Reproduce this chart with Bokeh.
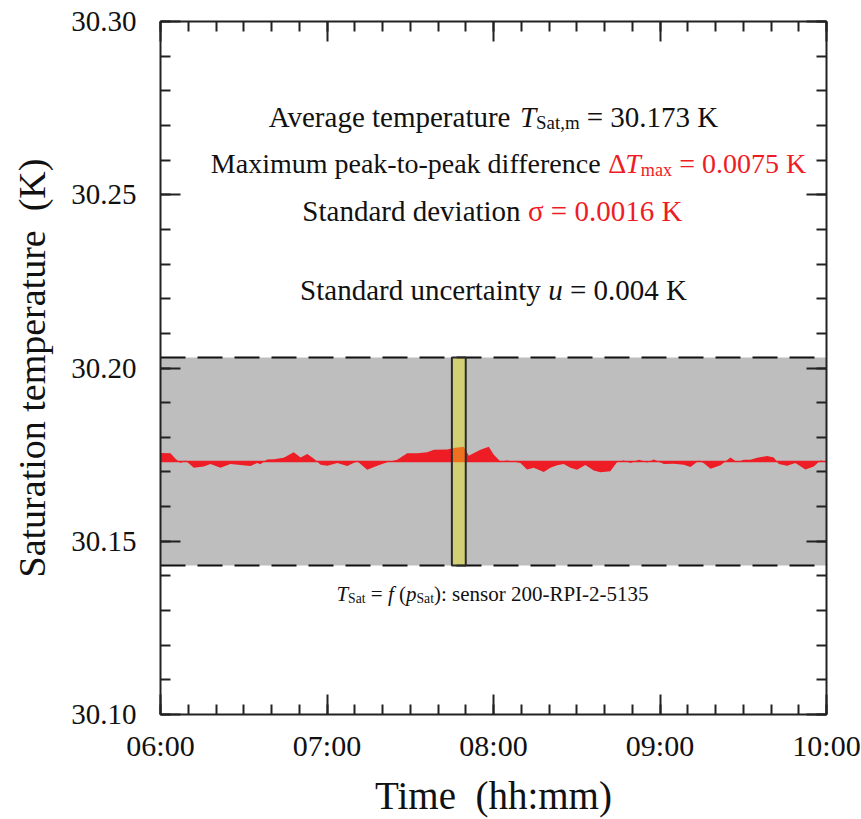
from bokeh.plotting import figure
from bokeh.models import Range1d, FixedTicker, LinearAxis, ColumnDataSource
from bokeh.core.properties import value
from bokeh.embed import file_html
from bokeh.resources import INLINE

# ---------------- data ----------------
# time in minutes after 06:00, deviation from the mean in mK
minutes = [0, 3.6, 5.4, 7.2, 9.0, 12.0, 15.6, 18.0, 21.6, 25.2, 28.8, 32.4, 34.8, 36.0,
           38.4, 40.8, 44.4, 48.0, 50.5, 52.9, 55.3, 57.7, 60.1, 63.7, 67.3, 70.9, 74.5,
           78.1, 81.7, 85.3, 88.9, 92.5, 96.1, 98.5, 103.3, 105.7, 109.3, 111.1, 113.5,
           115.3, 118.3, 120.1, 122.5, 124.9, 127.3, 129.7, 132.1, 134.5, 138.1, 140.5,
           142.9, 145.3, 147.7, 150.1, 153.1, 156.1, 158.5, 162.1, 164.5, 166.9, 169.4,
           172.4, 175.4, 177.8, 181.4, 185.0, 188.6, 191.0, 194.0, 195.8, 198.2, 201.8,
           205.4, 207.8, 210.2, 212.6, 215.0, 218.6, 221.0, 222.8, 225.8, 228.8, 232.4,
           235.4, 237.8, 239.6, 240.0]
dev_mK = [2.5, 2.4, 0.8, -0.4, 0.3, -1.8, -1.4, -0.7, -1.8, -0.7, -1.0, -1.3, -0.4, -0.8,
          0.6, 0.7, 1.1, 2.7, 1.2, 2.2, 0.8, -0.9, -1.2, -0.4, -1.3, 0.1, -2.4,
          -1.2, -0.2, 0.5, 2.4, 2.4, 2.7, 3.4, 3.5, 3.9, 4.3, 1.7, 2.7,
          3.4, 4.3, 2.0, 0.0, 0.3, 0.0, -0.4, -2.3, -1.8, -3.0, -1.8,
          -1.1, -0.7, -1.8, -2.4, -1.0, -2.6, -3.1, -2.8, -0.2, 0.3, -0.4,
          0.5, -0.3, 0.6, -0.7, -0.6, -0.9, -1.6, 0.3, -0.5, -2.1, -1.1,
          1.2, -0.2, 0.5, 0.5, 1.1, 1.6, 1.2, -0.7, -1.2, -0.4, -2.3,
          -1.4, 0.3, 0.0, 0.2]

T_MEAN = 30.173
BAND_LOW = 30.143
BAND_HIGH = 30.203
BAR_START_MIN = 105
BAR_END_MIN = 110

x_major = [6, 7, 8, 9, 10]
x_labels = ["06:00", "07:00", "08:00", "09:00", "10:00"]
y_major = [30.10, 30.15, 30.20, 30.25, 30.30]
y_labels = ["30.10", "30.15", "30.20", "30.25", "30.30"]

# annotation lines: (text, style, color, size factor, subscript)
BLACK = "#111111"
RED = "#ee1c25"
line1 = [("Average temperature ", "normal", BLACK, 1.0, False),
         ("T", "italic", BLACK, 1.0, False),
         ("Sat,m", "normal", BLACK, 0.65, True),
         (" = 30.173 K", "normal", BLACK, 1.0, False)]
line2 = [("Maximum peak-to-peak difference ", "normal", BLACK, 1.0, False),
         ("\u0394", "normal", RED, 1.0, False),
         ("T", "italic", RED, 1.0, False),
         ("max", "normal", RED, 0.65, True),
         (" = 0.0075 K", "normal", RED, 1.0, False)]
line3 = [("Standard deviation ", "normal", BLACK, 1.0, False),
         ("\u03c3 = 0.0016 K", "normal", RED, 1.0, False)]
line4 = [("Standard uncertainty ", "normal", BLACK, 1.0, False),
         ("u", "italic", BLACK, 1.0, False),
         (" = 0.004 K", "normal", BLACK, 1.0, False)]
caption = [("T", "italic", BLACK, 1.0, False),
           ("Sat", "normal", BLACK, 0.65, True),
           (" = ", "normal", BLACK, 1.0, False),
           ("f", "italic", BLACK, 1.0, False),
           (" (", "normal", BLACK, 1.0, False),
           ("p", "italic", BLACK, 1.0, False),
           ("Sat", "normal", BLACK, 0.65, True),
           ("): sensor 200-RPI-2-5135", "normal", BLACK, 1.0, False)]

# ---------------- layout constants ----------------
W, H = 861, 819
FL, FR, FT, FB = 160, 826, 21, 714   # frame in canvas pixels
X0, X1, Y0, Y1 = 6.0, 10.0, 30.10, 30.30
FONT = "Liberation Serif"


def px_x(px):
    return X0 + (px - FL) / (FR - FL) * (X1 - X0)


def px_y(py):
    return Y1 - (py - FT) / (FB - FT) * (Y1 - Y0)


# Times metrics (1/1000 em)
REG = {' ': 250, 'A': 722, 'D': 722, 'K': 722, 'M': 889, 'S': 556, 'R': 667, 'P': 556,
       'I': 333, 'T': 611, 'a': 444, 'c': 444, 'd': 500, 'e': 444, 'f': 333, 'g': 500,
       'h': 500, 'i': 278, 'k': 500, 'm': 778, 'n': 500, 'o': 500, 'p': 500, 'r': 333,
       's': 389, 't': 278, 'u': 500, 'v': 500, 'x': 500, 'y': 500, '-': 333, '.': 250,
       ',': 250, ':': 278, '=': 564, '(': 333, ')': 333, '\u0394': 612, '\u03c3': 550}
ITA = {'T': 556, 'u': 500, 'f': 278, 'p': 500}


def seg_width(txt, style, size):
    tab = ITA if style == "italic" else REG
    return sum(tab.get(ch, REG.get(ch, 500)) for ch in txt) / 1000.0 * size


def place(segs, cx, base, size, src):
    total = sum(seg_width(t, st, size * f) for t, st, c, f, sub in segs)
    x = cx - total / 2.0
    for t, st, c, f, sub in segs:
        s = size * f
        lead = len(t) - len(t.lstrip(" "))
        x += lead * 0.25 * s
        t = t.lstrip(" ")
        yb = base + (0.22 * size if sub else 0)
        src["x"].append(px_x(x))
        src["y"].append(px_y(yb))
        src["text"].append(t)
        src["style"].append(st)
        src["color"].append(c)
        src["size"].append("%.1fpx" % s)
        x += seg_width(t, st, s)


# ---------------- figure ----------------
p = figure(width=W, height=H, x_range=Range1d(X0, X1), y_range=Range1d(Y0, Y1),
           output_backend="svg", toolbar_location=None,
           min_border_left=FL, min_border_right=W - FR,
           min_border_top=FT, min_border_bottom=H - FB)
p.xgrid.visible = False
p.ygrid.visible = False
p.outline_line_color = None
p.background_fill_color = "white"
p.border_fill_color = "white"

x_minor = [6 + k / 6.0 for k in range(25)]
y_minor = [round(30.10 + k * 0.01, 2) for k in range(21)]
xt = FixedTicker(ticks=x_major, minor_ticks=x_minor)
yt = FixedTicker(ticks=y_major, minor_ticks=y_minor)


def style_axis(ax):
    ax.axis_line_width = 2
    ax.axis_line_color = "#222222"
    ax.major_tick_in = 20
    ax.major_tick_out = 0
    ax.minor_tick_in = 10
    ax.minor_tick_out = 0
    ax.major_tick_line_width = 2
    ax.minor_tick_line_width = 2
    ax.major_tick_line_color = "#222222"
    ax.minor_tick_line_color = "#222222"
    ax.major_label_text_font = FONT
    ax.axis_label_text_font = FONT
    ax.axis_label_text_font_style = "normal"
    ax.major_label_text_color = "#111111"
    ax.axis_label_text_color = "#111111"


xa = p.xaxis[0]
xa.ticker = xt
xa.major_label_overrides = dict(zip(x_major, x_labels))
style_axis(xa)
xa.major_label_text_font_size = "30px"
xa.major_label_standoff = 14
xa.axis_label = "Time \u00a0(hh:mm)"
xa.axis_label_text_font_size = "39px"
xa.axis_label_standoff = 9

ya = p.yaxis[0]
ya.ticker = yt
ya.major_label_overrides = dict(zip(y_major, y_labels))
style_axis(ya)
ya.major_label_text_font_size = "29px"
ya.major_label_standoff = 24
ya.axis_label = "Saturation temperature \u00a0(K)"
ya.axis_label_text_font_size = "38px"
ya.axis_label_standoff = 15

ra = LinearAxis(ticker=yt)
style_axis(ra)
ra.major_label_overrides = {t: "" for t in y_major}
ra.major_label_standoff = 0
p.add_layout(ra, "right")
ta = LinearAxis(ticker=xt)
style_axis(ta)
ta.major_label_overrides = {t: "" for t in x_major}
ta.major_label_standoff = 0
p.add_layout(ta, "above")

# band
p.varea(x=[X0, X1], y1=[BAND_LOW, BAND_LOW], y2=[BAND_HIGH, BAND_HIGH], fill_color="#bebebe")

# series
hours = [6 + m / 60.0 for m in minutes]
temps = [T_MEAN + d / 1000.0 for d in dev_mK]
p.varea(x=hours, y1=[T_MEAN] * len(hours), y2=temps, fill_color="#ee1c25")
p.line(x=[X0, X1], y=[T_MEAN, T_MEAN], line_color="#ee1c25", line_width=1.5)

# dashed band edges
for yv in (BAND_LOW, BAND_HIGH):
    p.line(x=[X0, X1], y=[yv, yv], line_color="#111111", line_width=2, line_dash="25 12")

# highlighted bar
p.quad(left=[6 + BAR_START_MIN / 60.0], right=[6 + BAR_END_MIN / 60.0],
       bottom=[BAND_LOW], top=[BAND_HIGH], fill_color="#f0e614", fill_alpha=0.42,
       line_color="#2a2a2a", line_width=2)

# texts
src = dict(x=[], y=[], text=[], style=[], color=[], size=[])
place(line1, 493, 116, 29, src)
place(line2, 508, 163, 28, src)
place(line3, 492, 210, 29, src)
place(line4, 493, 289, 29, src)
place(caption, 492, 593, 21, src)
p.text(x="x", y="y", text="text", source=ColumnDataSource(src),
       text_font=value(FONT), text_font_style="style", text_color="color",
       text_font_size="size", text_align="left", text_baseline="alphabetic")

open("out.html", "w").write(file_html(p, INLINE))
